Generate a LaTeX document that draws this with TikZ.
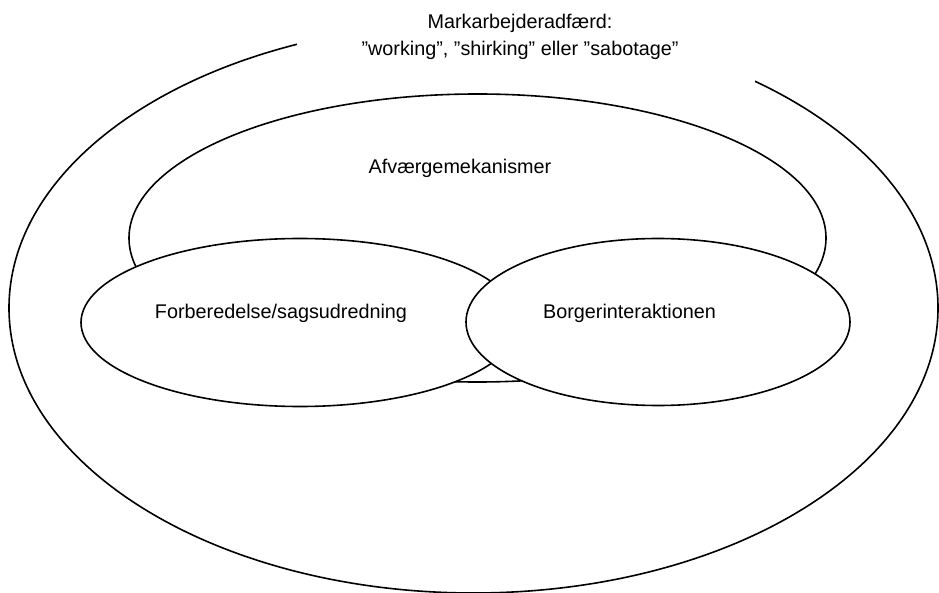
\documentclass[tikz,border=0pt]{standalone}
\usepackage{fontspec}
\setmainfont{Liberation Sans}
\usetikzlibrary{shapes.geometric}

\begin{document}
\begin{tikzpicture}[x=1pt,y=-1pt,line width=1.6pt,
  every node/.style={font=\fontsize{19.8pt}{27pt}\selectfont,inner sep=0pt},
  oval/.style={ellipse,draw,fill=white,inner sep=0pt}]
  \useasboundingbox (0,0) rectangle (939,593);
  \node[oval,minimum width=929pt,minimum height=570pt] (adfaerd) at (473.5,308) {};
  \node[oval,minimum width=697pt,minimum height=288pt] (afvaerge) at (477.5,238) {};
  \node[oval,minimum width=438pt,minimum height=168pt] (forb) at (300,322.5) {};
  \node[oval,minimum width=384pt,minimum height=167pt] (borger) at (658,322) {};
  \fill[white] (297,4) rectangle (755,86);
  \node[align=center] (adfaerdtxt) at (520,37)
    {Markarbejderadfærd:\\”working”, ”shirking” eller ”sabotage”};
  \node[anchor=base] (afvaergetxt) at (460,174) {Afværgemekanismer};
  \node[anchor=base] (forbtxt) at (281,319) {Forberedelse/sagsudredning};
  \node[anchor=base] (borgertxt) at (629.5,319) {Borgerinteraktionen};
\end{tikzpicture}
\end{document}
